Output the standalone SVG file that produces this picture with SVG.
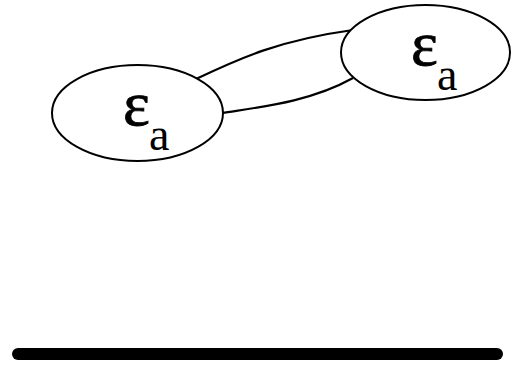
<svg xmlns="http://www.w3.org/2000/svg" width="519" height="367" viewBox="0 0 519 367">
<style>
.node ellipse{fill:#fff;stroke:#000;stroke-width:2}
.edge{fill:none;stroke:#000;stroke-width:2.2}
.eps{font-family:"Liberation Serif","Times New Roman",serif;font-size:64px;fill:#000;stroke:#000;stroke-width:0.8}
.sub{font-family:"Liberation Serif","Times New Roman",serif;font-size:46px;fill:#000}
</style>
<rect width="519" height="367" fill="#fff"/>
<g id="connectors">
<path class="edge" d="M196,79 C240,58 280,40 353,30"/>
<path class="edge" d="M222,113 C260,107 310,102 353,78"/>
</g>
<g id="node1" class="node">
<ellipse cx="137.5" cy="113" rx="85.5" ry="48"/>
<text class="eps" x="123" y="125">ε</text>
<text class="sub" x="149" y="150">a</text>
</g>
<g id="node2" class="node">
<ellipse cx="425.5" cy="52.5" rx="84.5" ry="47.5"/>
<text class="eps" x="411" y="65">ε</text>
<text class="sub" x="437" y="90">a</text>
</g>
<line x1="18" y1="354" x2="497" y2="354" stroke="#000" stroke-width="12" stroke-linecap="round"/>
</svg>
